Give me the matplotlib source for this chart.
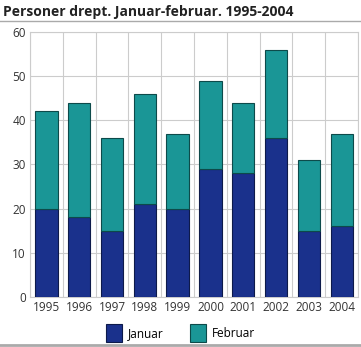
import numpy as np
import matplotlib.pyplot as plt
from matplotlib.lines import Line2D

years = ['1995', '1996', '1997', '1998', '1999', '2000', '2001', '2002', '2003', '2004']
januar = [20, 18, 15, 21, 20, 29, 28, 36, 15, 16]
februar = [22, 26, 21, 25, 17, 20, 16, 20, 16, 21]

plt.rcParams['font.family'] = ['Open Sans', 'DejaVu Sans']

fig = plt.figure(figsize=(3.61, 3.47), dpi=100)
ax = fig.add_axes([0.083, 0.144, 0.909, 0.764])

x = np.arange(len(years))
ax.bar(x, januar, width=0.68, color='#1a318c', edgecolor='#0d1a4a', linewidth=0.8,
       label='Januar', zorder=3)
ax.bar(x, februar, bottom=januar, width=0.68, color='#1a9696', edgecolor='#0d4a4a',
       linewidth=0.8, label='Februar', zorder=3)

ax.set_xlim(-0.5, len(years) - 0.5)
ax.set_ylim(0, 60)
ax.set_yticks(range(0, 61, 10))
ax.set_xticks(x)
ax.set_xticklabels(years)
ax.set_xticks(np.arange(-0.5, len(years)), minor=True)
ax.grid(axis='y', color='#cccccc', linewidth=0.8, zorder=0)
ax.grid(axis='x', which='minor', color='#cccccc', linewidth=0.8, zorder=0)
ax.tick_params(which='both', length=0, labelsize=8.5, colors='#333333', pad=3)
for s in ax.spines.values():
    s.set_color('#cccccc')
    s.set_linewidth(0.8)

fig.text(0.008, 0.965, 'Personer drept. Januar-februar. 1995-2004', fontsize=10,
         fontweight='bold', color='#222222', va='center', ha='left')
fig.add_artist(Line2D([0, 1], [0.94, 0.94], color='#aaaaaa', linewidth=1))
fig.add_artist(Line2D([0, 1], [0.006, 0.006], color='#aaaaaa', linewidth=2))

fig.legend(loc='center', bbox_to_anchor=(0.5, 0.04), ncol=2, frameon=False,
           fontsize=8.5, handlelength=1.4, handleheight=1.9, columnspacing=2.2,
           handletextpad=0.5)

fig.savefig('out.png', dpi=100)
